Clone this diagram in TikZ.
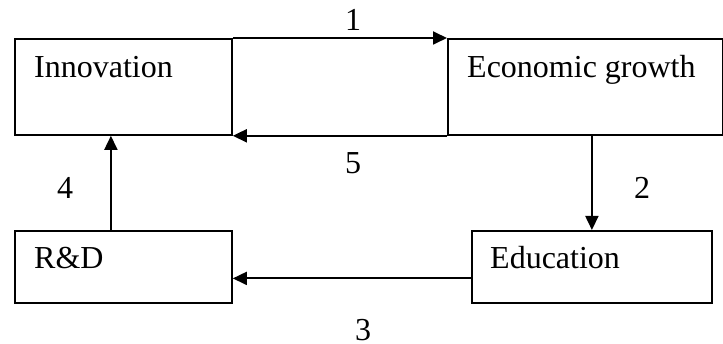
\documentclass[tikz,border=0pt]{standalone}
\usepackage{fontspec}
\setmainfont{Liberation Serif}
\usetikzlibrary{arrows.meta}
\begin{document}
\begin{tikzpicture}[x=1pt,y=-1pt,
  box/.style={draw, line width=1.8pt, inner sep=0pt, anchor=north west},
  txt/.style={inner sep=0pt, anchor=base west, font=\fontsize{32}{38}\selectfont},
  num/.style={inner sep=0pt, anchor=center, font=\fontsize{32}{38}\selectfont},
  conn/.style={line width=1.8pt, -{Triangle[length=14pt,width=13pt]}}]
\useasboundingbox (0,0) rectangle (723,344);
\node[box, minimum width=217pt, minimum height=96pt] (inno) at (14,38) {};
\node[box, minimum width=275pt, minimum height=96pt] (econ) at (447,38) {};
\node[box, minimum width=217pt, minimum height=72pt] (rd) at (14,230) {};
\node[box, minimum width=240pt, minimum height=72pt] (edu) at (471,230) {};
\node[txt] (tinno) at (34,78) {Innovation};
\node[txt] (tecon) at (467,78) {Economic growth};
\node[txt] (trd) at (34,269) {R\&D};
\node[txt] (tedu) at (490,269) {Education};
\draw[conn] (inno.north east) -- (econ.north west);
\draw[conn] (econ.south west) -- (inno.south east);
\draw[conn] (econ.south -| edu.north) -- (edu.north);
\draw[conn] ([yshift=-11.5pt]edu.west) -- ([yshift=-11.5pt]rd.east);
\draw[conn] ([xshift=-12.5pt]rd.north) -- ([xshift=-12.5pt]inno.south);
\node[num] (n1) at (353,20) {1};
\node[num] (n5) at (353,163) {5};
\node[num] (n2) at (642,188) {2};
\node[num] (n4) at (65,188) {4};
\node[num] (n3) at (363,330) {3};
\end{tikzpicture}
\end{document}
